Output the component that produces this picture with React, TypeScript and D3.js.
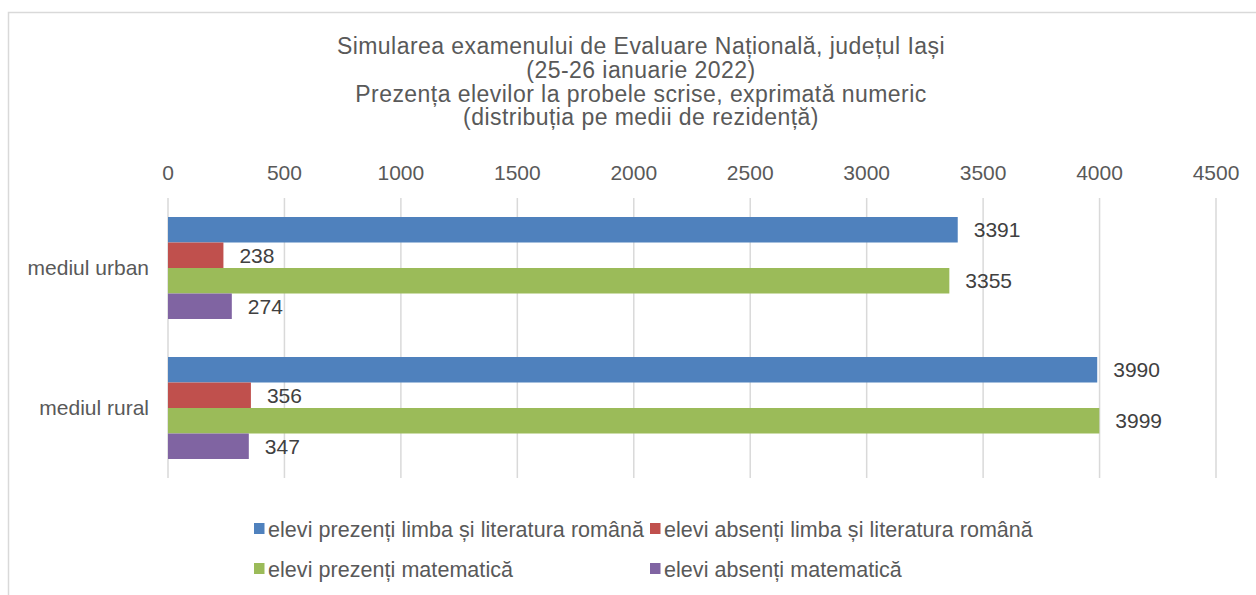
import React from "react";
import * as d3 from "d3";

const categories = ["mediul urban", "mediul rural"];
const seriesNames = [
  "elevi prezenți limba și literatura română",
  "elevi absenți limba și literatura română",
  "elevi prezenți matematică",
  "elevi absenți matematică",
];
const seriesColors = ["#4F81BD", "#C0504D", "#9BBB59", "#8064A2"];
const presentRomana = [3391, 3990];
const absentRomana = [238, 356];
const presentMate = [3355, 3999];
const absentMate = [274, 347];
const xTicks = [0, 500, 1000, 1500, 2000, 2500, 3000, 3500, 4000, 4500];
const titleLines = [
  "Simularea examenului de Evaluare Națională, județul Iași",
  "(25-26 ianuarie 2022)",
  "Prezența elevilor la probele scrise, exprimată numeric",
  "(distribuția pe medii de rezidență)",
];

const seriesValues = [presentRomana, absentRomana, presentMate, absentMate];

const W = 1256;
const H = 595;
const FONT = "'Liberation Sans', Arial, Helvetica, sans-serif";
const TXT = "#595959";

export default function App() {
  const x = d3.scaleLinear().domain([0, 4500]).range([168, 1216]);
  const y = d3.scaleBand().domain(categories).range([198, 478]);
  const inner = d3
    .scaleBand()
    .domain(seriesNames)
    .range([0, y.bandwidth()])
    .paddingOuter(0.745)
    .paddingInner(0);

  return (
    <svg width={W} height={H} style={{ position: "absolute", left: 0, top: 0, background: "#fff" }}>
      <rect x={8.5} y={12.5} width={1260} height={600} fill="#fff" stroke="#D9D9D9" strokeWidth={1.5} />
      {titleLines.map((t, i) => (
        <text key={i} x={641} y={54 + i * 23.8} textAnchor="middle" fontFamily={FONT} fontSize={23} fill={TXT} letterSpacing={0.45}>
          {t}
        </text>
      ))}
      {xTicks.map((t) => (
        <g key={t}>
          <line x1={x(t)} x2={x(t)} y1={198} y2={478} stroke="#D9D9D9" strokeWidth={1.5} />
          <text x={x(t)} y={180} textAnchor="middle" fontFamily={FONT} fontSize={21} fill={TXT}>
            {t}
          </text>
        </g>
      ))}
      {categories.map((c, ci) => (
        <g key={c}>
          <text
            x={149}
            y={(y(c) as number) + y.bandwidth() / 2 + 7}
            textAnchor="end"
            fontFamily={FONT}
            fontSize={21}
            fill={TXT}
          >
            {c}
          </text>
          {seriesNames.map((s, si) => {
            const v = seriesValues[si][ci];
            const by = (y(c) as number) + (inner(s) as number);
            return (
              <g key={s}>
                <rect x={x(0)} y={by} width={x(v) - x(0)} height={inner.bandwidth()} fill={seriesColors[si]} />
                <text
                  x={x(v) + 16}
                  y={by + inner.bandwidth() / 2 + 7.5}
                  fontFamily={FONT}
                  fontSize={21}
                  fill="#404040"
                >
                  {v}
                </text>
              </g>
            );
          })}
        </g>
      ))}
      {seriesNames.map((s, i) => {
        const col = i % 2;
        const row = Math.floor(i / 2);
        const lx = col === 0 ? 254 : 650;
        const ly = 528.5 + row * 40;
        return (
          <g key={s}>
            <rect x={lx} y={ly - 5.5} width={10.5} height={11} fill={seriesColors[i]} />
            <text x={lx + 14} y={ly + 8} fontFamily={FONT} fontSize={21.5} fill={TXT} letterSpacing={0.05}>
              {s}
            </text>
          </g>
        );
      })}
    </svg>
  );
}
